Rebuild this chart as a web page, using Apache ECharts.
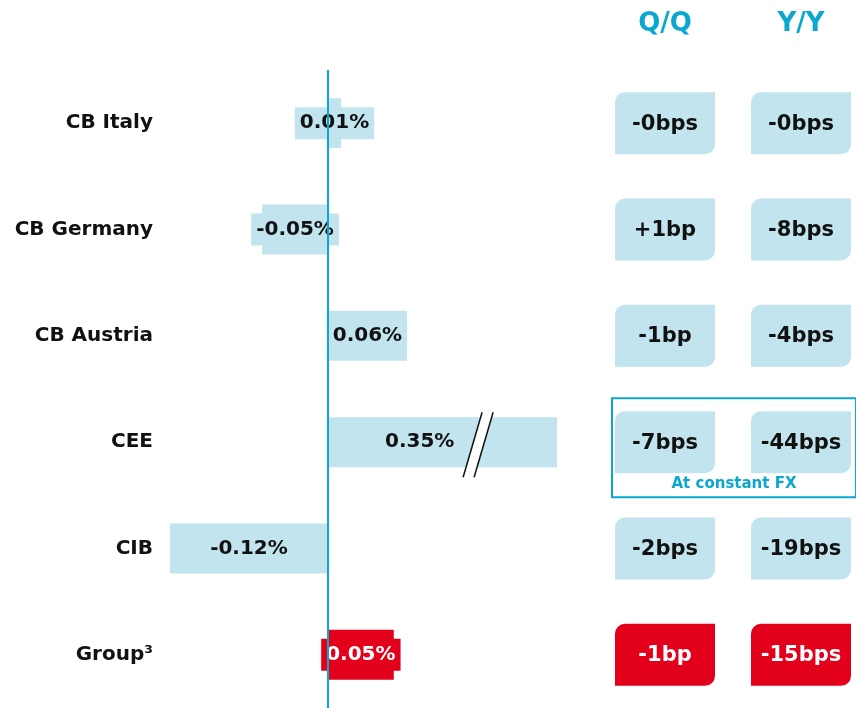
<!DOCTYPE html>
<html>
<head>
<meta charset="utf-8">
<script src="https://cdn.jsdelivr.net/npm/echarts@6/dist/echarts.min.js"></script>
<style>
  html, body {margin: 0; padding: 0; background: #fff;}
  #main {width: 856px; height: 709px;}
</style>
</head>
<body>
<div id="main"></div>
<script>
const categories = ['CB Italy', 'CB Germany', 'CB Austria', 'CEE', 'CIB', 'Group³'];
const changes = [0.01, -0.05, 0.06, 0.35, -0.12, 0.05];
const columns = ['Q/Q', 'Y/Y'];
const qq = ['-0bps', '+1bp', '-1bp', '-7bps', '-2bps', '-1bp'];
const yy = ['-0bps', '-8bps', '-4bps', '-44bps', '-19bps', '-15bps'];
const groupIndex = 5;   // highlighted row
const ceeIndex = 3;     // broken bar + constant FX frame

const BLUE = '#c1e4ee';
const RED = '#e2001a';
const CYAN = '#0aa8d0';
const FONT = '"DejaVu Sans", sans-serif';

const chart = echarts.init(document.getElementById('main'));

const barData = changes.map((v, i) => {
  const item = {value: v};
  if (i === groupIndex) {
    item.itemStyle = {color: RED};
    item.label = {color: '#fff', backgroundColor: RED};
  }
  if (i === ceeIndex) {
    item.label = {position: 'insideLeft', distance: 52, backgroundColor: 'transparent'};
  }
  return item;
});

const boxData = [];
const boxText = [];
categories.forEach((c, i) => {
  boxData.push([0, i]); boxText.push(qq[i]);
  boxData.push([1, i]); boxText.push(yy[i]);
});

chart.setOption({
  animation: false,
  grid: [
    {left: 170, top: 70, bottom: 1, width: 387, outerBoundsMode: 'none'},
    {left: 597, top: 70, bottom: 1, width: 272, outerBoundsMode: 'none'}
  ],
  xAxis: [
    {type: 'value', gridIndex: 0, min: -0.12, max: 0.174, show: false},
    {
      type: 'category', gridIndex: 1, data: columns, position: 'top',
      axisLine: {show: false}, axisTick: {show: false},
      axisLabel: {color: CYAN, fontSize: 26, fontWeight: 'bold', fontFamily: FONT, margin: 33}
    }
  ],
  yAxis: [
    {
      type: 'category', gridIndex: 0, data: categories, inverse: true,
      axisLine: {show: false}, axisTick: {show: false},
      axisLabel: {color: '#111', fontSize: 20, fontWeight: 'bold', fontFamily: FONT, margin: 17, padding: [6, 0, 0, 0]}
    },
    {type: 'category', gridIndex: 1, data: categories, inverse: true, show: false}
  ],
  series: [
    {
      type: 'bar',
      xAxisIndex: 0, yAxisIndex: 0,
      data: barData,
      barWidth: 50,
      clip: true,
      itemStyle: {color: BLUE},
      label: {
        show: true,
        position: 'inside',
        color: '#111',
        fontSize: 20,
        fontWeight: 'bold',
        fontFamily: FONT,
        backgroundColor: BLUE,
        padding: [7, 5, 5, 5],
        formatter: p => p.value.toFixed(2) + '%'
      },
      markLine: {
        silent: true,
        symbol: 'none',
        label: {show: false},
        lineStyle: {color: CYAN, width: 2, type: 'solid'},
        data: [{xAxis: 0}]
      }
    },
    {
      type: 'custom',
      xAxisIndex: 1, yAxisIndex: 1,
      data: boxData,
      renderItem: (params, api) => {
        const c = api.coord([api.value(0), api.value(1)]);
        const w = 100, h = 62;
        const red = api.value(1) === groupIndex;
        return {
          type: 'group',
          children: [
            {
              type: 'rect',
              shape: {x: c[0] - w / 2, y: c[1] - h / 2, width: w, height: h, r: [10, 0, 10, 0]},
              style: {fill: red ? RED : BLUE}
            },
            {
              type: 'text',
              style: {
                text: boxText[params.dataIndex],
                x: c[0], y: c[1] + 1,
                align: 'center', verticalAlign: 'middle',
                fill: red ? '#fff' : '#111',
                font: 'bold 21px ' + FONT
              }
            }
          ]
        };
      }
    }
  ]
});

// constant FX frame and the axis-break mark on the CEE bar
const q = chart.convertToPixel({gridIndex: 1}, [0, ceeIndex]);
const y = chart.convertToPixel({gridIndex: 1}, [1, ceeIndex]);
const b = chart.convertToPixel({gridIndex: 0}, [0.108, ceeIndex]);
chart.setOption({
  graphic: [
    {
      type: 'rect', z: 100,
      shape: {x: q[0] - 53, y: q[1] - 44, width: (y[0] + 55) - (q[0] - 53), height: 99},
      style: {fill: 'none', stroke: CYAN, lineWidth: 2}
    },
    {
      type: 'text', z: 100,
      style: {
        text: 'At constant FX',
        x: (q[0] + y[0]) / 2 + 1, y: q[1] + 42,
        align: 'center', verticalAlign: 'middle',
        fill: CYAN, font: 'bold 15px ' + FONT
      }
    },
    {
      type: 'polygon', z: 100,
      shape: {points: [[b[0] - 7, b[1] + 35], [b[0] + 12, b[1] - 30], [b[0] + 23, b[1] - 30], [b[0] + 4, b[1] + 35]]},
      style: {fill: '#fff'}
    },
    {
      type: 'line', z: 101,
      shape: {x1: b[0] - 7, y1: b[1] + 35, x2: b[0] + 12, y2: b[1] - 30},
      style: {stroke: '#111', lineWidth: 1.5}
    },
    {
      type: 'line', z: 101,
      shape: {x1: b[0] + 4, y1: b[1] + 35, x2: b[0] + 23, y2: b[1] - 30},
      style: {stroke: '#111', lineWidth: 1.5}
    }
  ]
});
</script>
</body>
</html>
